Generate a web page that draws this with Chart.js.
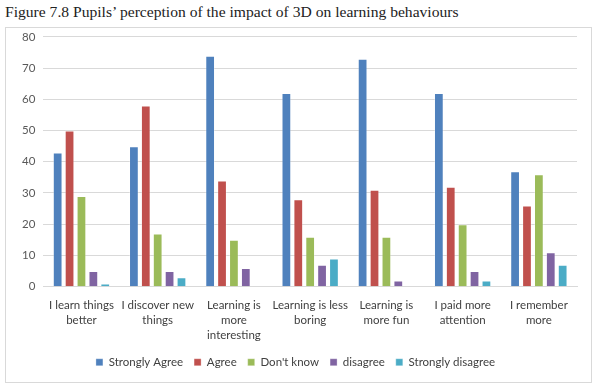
<!DOCTYPE html>
<html lang="en">
<head>
    <meta charset="UTF-8">
    <title>Figure 7.8</title>
    <script src="https://cdn.jsdelivr.net/npm/chart.js"></script>
    <style>
        body { margin: 0; background: #fff; width: 600px; height: 389px; overflow: hidden; }
        .title {
            position: absolute; left: 5px; top: 3px;
            font-family: "Liberation Serif", "DejaVu Serif", serif;
            font-size: 15.6px; color: #222;
        }
        .frame {
            position: absolute; left: 5px; top: 27px; width: 587px; height: 356px;
            border: 1px solid #d9d9d9; box-sizing: border-box;
        }
        #chart { position: absolute; left: 0; top: -6px; }
    </style>
</head>
<body>
    <div class="title">Figure 7.8 Pupils’ perception of the impact of 3D on learning behaviours</div>
    <div class="frame">
        <canvas id="chart" width="585" height="360"></canvas>
    </div>
    <script>
        var categories = [
            ['I learn things', 'better'],
            ['I discover new', 'things'],
            ['Learning is', 'more', 'interesting'],
            ['Learning is less', 'boring'],
            ['Learning is', 'more fun'],
            ['I paid more', 'attention'],
            ['I remember', 'more']
        ];
        var strongAgree = [43, 45, 74, 62, 73, 62, 37];
        var agree = [50, 58, 34, 28, 31, 32, 26];
        var dontKnow = [29, 17, 15, 16, 16, 20, 36];
        var disagree = [5, 5, 6, 7, 2, 5, 11];
        var strongDisagree = [1, 3, 0, 9, 0, 2, 7];

        function ds(label, data, color) {
            return {
                label: label, data: data, backgroundColor: color,
                borderColor: 'rgba(255,255,255,0.3)', borderWidth: 1,
                barPercentage: 0.82, categoryPercentage: 0.78
            };
        }

        Chart.defaults.font.family = 'Lato, "Liberation Sans", sans-serif';
        Chart.defaults.font.size = 11.5;
        Chart.defaults.color = '#595959';

        new Chart(document.getElementById('chart'), {
            type: 'bar',
            data: {
                labels: categories,
                datasets: [
                    ds('Strongly Agree', strongAgree, '#4F81BD'),
                    ds('Agree', agree, '#C0504D'),
                    ds("Don't know", dontKnow, '#9BBB59'),
                    ds('disagree', disagree, '#8064A2'),
                    ds('Strongly disagree', strongDisagree, '#4BACC6')
                ]
            },
            options: {
                responsive: false,
                animation: false,
                layout: { padding: { top: 0, right: 14, left: 8, bottom: 4 } },
                plugins: {
                    legend: {
                        position: 'bottom',
                        labels: { boxWidth: 7, boxHeight: 7, padding: 11, color: '#404040' }
                    },
                    tooltip: { enabled: false }
                },
                scales: {
                    x: {
                        grid: { display: false },
                        border: { color: '#d9d9d9' },
                        ticks: { color: '#404040', maxRotation: 0, autoSkip: false, padding: 3,
                                 font: { lineHeight: 1.3 } }
                    },
                    y: {
                        min: 0, max: 80,
                        ticks: { stepSize: 10, padding: 8 },
                        grid: { color: '#d9d9d9', drawTicks: false },
                        border: { display: false }
                    }
                }
            }
        });
    </script>
</body>
</html>
